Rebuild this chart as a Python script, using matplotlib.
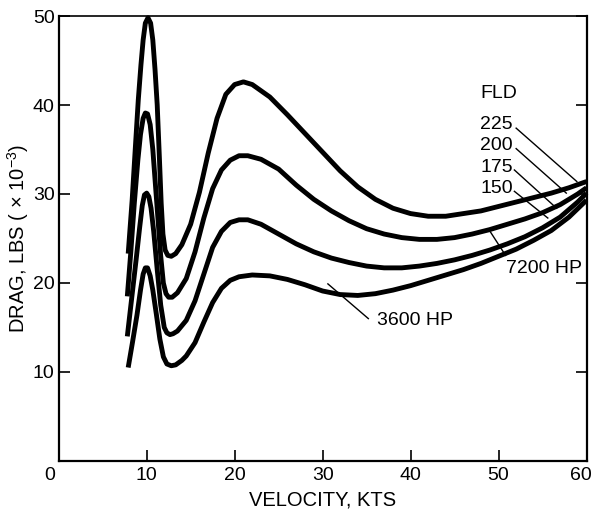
import matplotlib
matplotlib.use("Agg")
import matplotlib.pyplot as plt
from matplotlib.transforms import ScaledTranslation

plt.rcParams['font.family'] = ['Liberation Sans', 'DejaVu Sans']
plt.rcParams['mathtext.fontset'] = 'custom'
plt.rcParams['mathtext.rm'] = 'Liberation Sans'

# FLD 225
vel_225 = [7.9, 8.35, 8.7, 9.05, 9.35, 9.6, 9.85, 10.15, 10.45, 10.7, 10.95, 11.2, 11.45,
           11.65, 11.85, 12.1, 12.4, 12.8, 13.3, 14.0, 15.0, 16.0, 17.0, 18.0, 19.0, 20.0,
           21.0, 22.0, 24.0, 26.0, 28.0, 30.0, 32.0, 34.0, 36.0, 38.0, 40.0, 42.0, 44.0,
           46.0, 48.0, 50.0, 52.0, 54.0, 56.0, 58.0, 60.0]
drag_225 = [23.3, 29.3, 35.0, 40.6, 44.5, 47.3, 49.2, 49.8, 49.2, 47.3, 44.0, 40.0, 34.0,
            29.0, 25.5, 23.7, 23.1, 23.0, 23.3, 24.3, 26.6, 30.2, 34.6, 38.5, 41.2, 42.3,
            42.6, 42.3, 40.9, 38.9, 36.8, 34.7, 32.6, 30.8, 29.4, 28.4, 27.8, 27.5, 27.5,
            27.8, 28.1, 28.6, 29.1, 29.6, 30.1, 30.7, 31.4]

# FLD 200
vel_200 = [7.8, 8.2, 8.6, 9.0, 9.3, 9.6, 9.85, 10.1, 10.4, 10.7, 11.0, 11.3, 11.6, 11.9,
           12.2, 12.5, 12.9, 13.5, 14.5, 15.5, 16.5, 17.5, 18.5, 19.5, 20.5, 21.5, 23.0,
           25.0, 27.0, 29.0, 31.0, 33.0, 35.0, 37.0, 39.0, 41.0, 43.0, 45.0, 47.0, 49.0,
           51.0, 53.0, 55.0, 57.0, 59.0, 60.0]
drag_200 = [18.5, 23.5, 29.0, 33.8, 36.7, 38.5, 39.1, 39.0, 37.8, 35.0, 31.0, 27.0, 23.0,
            20.0, 18.8, 18.4, 18.4, 18.9, 20.5, 23.5, 27.3, 30.6, 32.7, 33.8, 34.3, 34.3,
            33.9, 32.8, 31.0, 29.4, 28.1, 27.0, 26.1, 25.5, 25.1, 24.9, 24.9, 25.1, 25.5,
            26.0, 26.6, 27.2, 27.9, 28.8, 30.0, 30.7]

# FLD 175
vel_175 = [7.8, 8.3, 8.8, 9.2, 9.5, 9.75, 10.0, 10.25, 10.5, 10.8, 11.2, 11.6, 12.0, 12.3,
           12.65, 13.0, 13.5, 14.5, 15.5, 16.5, 17.5, 18.5, 19.5, 20.5, 21.5, 23.0, 25.0,
           27.0, 29.0, 31.0, 33.0, 35.0, 37.0, 39.0, 41.0, 43.0, 45.0, 47.0, 49.0, 51.0,
           53.0, 55.0, 57.0, 59.0, 60.0]
drag_175 = [14.0, 18.3, 22.6, 26.2, 28.7, 29.9, 30.1, 29.7, 28.4, 25.8, 21.5, 17.5, 15.0,
            14.4, 14.2, 14.3, 14.6, 15.8, 18.0, 21.0, 24.0, 25.8, 26.8, 27.1, 27.1, 26.6,
            25.5, 24.4, 23.5, 22.8, 22.3, 21.9, 21.7, 21.7, 21.9, 22.2, 22.6, 23.1, 23.7,
            24.4, 25.2, 26.2, 27.4, 29.1, 30.1]

# FLD 150
vel_150 = [7.9, 8.4, 8.9, 9.3, 9.6, 9.85, 10.1, 10.4, 10.7, 11.1, 11.5, 11.9, 12.3, 12.8,
           13.3, 14.0, 14.5, 15.5, 16.5, 17.5, 18.5, 19.5, 20.5, 22.0, 24.0, 26.0, 28.0,
           30.0, 32.0, 34.0, 36.0, 38.0, 40.0, 42.0, 44.0, 46.0, 48.0, 50.0, 52.0, 54.0,
           56.0, 58.0, 60.0]
drag_150 = [10.5, 13.4, 16.4, 19.2, 21.0, 21.7, 21.7, 20.8, 19.2, 16.5, 13.7, 11.7, 10.9,
            10.7, 10.8, 11.3, 11.8, 13.3, 15.6, 17.8, 19.4, 20.3, 20.7, 20.9, 20.8, 20.4,
            19.8, 19.1, 18.7, 18.6, 18.8, 19.2, 19.7, 20.3, 20.9, 21.5, 22.2, 23.0, 23.8,
            24.8, 25.9, 27.4, 29.3]

curves = [(vel_225, drag_225), (vel_200, drag_200), (vel_175, drag_175), (vel_150, drag_150)]

fld_labels = ['225', '200', '175', '150']
fld_label_y = [37.8, 35.4, 33.0, 30.6]
fld_leader_start = [(52.0, 37.4), (52.0, 35.1), (51.8, 32.7), (51.8, 30.3)]
fld_leader_end = [(58.9, 31.4), (57.7, 30.1), (56.6, 28.4), (55.6, 27.3)]

xticks = [10, 20, 30, 40, 50, 60]
yticks = [10, 20, 30, 40, 50]

fig = plt.figure(figsize=(5.94, 5.13), dpi=100)
ax = fig.add_axes([0.0988, 0.1014, 0.8886, 0.8674])

for vel, drag in curves:
    ax.plot(vel, drag, color='black', lw=3.5, solid_joinstyle='round',
            solid_capstyle='butt', clip_on=False, zorder=3)

# FLD labels with leader lines
ax.text(47.9, 41.3, 'FLD', fontsize=14, ha='left', va='center')
for lab, ly, (x0, y0), (x1, y1) in zip(fld_labels, fld_label_y, fld_leader_start, fld_leader_end):
    ax.text(47.9, ly, lab, fontsize=14, ha='left', va='center')
    ax.plot([x0, x1], [y0, y1], color='black', lw=1.0, zorder=4)

# horsepower labels
ax.text(50.8, 21.6, '7200 HP', fontsize=14, ha='left', va='center')
ax.plot([49.1, 50.8], [25.7, 23.1], color='black', lw=1.0, zorder=4)
ax.text(36.2, 15.8, '3600 HP', fontsize=14, ha='left', va='center')
ax.plot([30.6, 35.2], [19.9, 16.0], color='black', lw=1.0, zorder=4)

ax.set_xlim(0, 60)
ax.set_ylim(0, 50)
ax.set_xticks(xticks)
ax.set_yticks(yticks)
ax.tick_params(direction='in', length=8, width=1.2, labelsize=14, right=True)
ax.tick_params(axis='x', pad=4)
ax.tick_params(axis='y', pad=3)
for side in ['left', 'bottom', 'right']:
    ax.spines[side].set_linewidth(1.6)
ax.spines['top'].set_linewidth(1.2)

# keep the last x label inside the figure
last = ax.get_xticklabels()[-1]
last.set_transform(last.get_transform() + ScaledTranslation(-0.06, 0, fig.dpi_scale_trans))

ax.annotate('0', xy=(0, 0), xycoords='axes fraction', xytext=(-6.3, -10.5),
            textcoords='offset points', ha='center', va='center', fontsize=14)

ax.set_xlabel('VELOCITY, KTS', fontsize=14.5, labelpad=5)
ax.set_ylabel('DRAG, LBS ( $\\times$ 10$^{-3}$)', fontsize=14.5, labelpad=1)

fig.savefig('out.png', dpi=100)
